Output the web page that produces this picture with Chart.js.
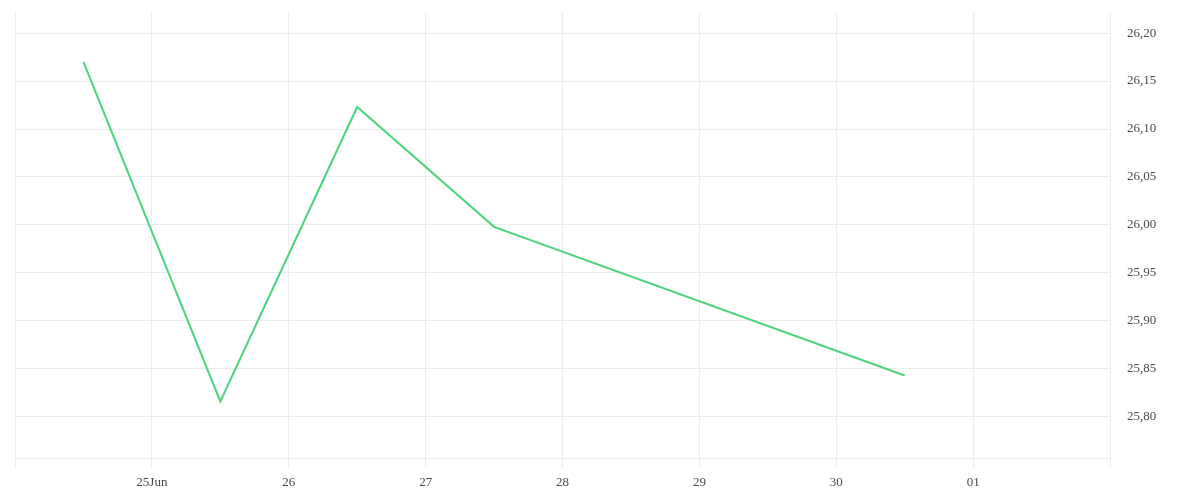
<!DOCTYPE html>
<html>
<head>
<meta charset="utf-8">
<script src="https://cdn.jsdelivr.net/npm/chart.js@4/dist/chart.umd.min.js"></script>
<style>
  html, body { margin: 0; padding: 0; background: #fff; }
  #wrap { width: 1200px; height: 500px; }
</style>
</head>
<body>
<div id="wrap"><canvas id="c" width="1200" height="500"></canvas></div>
<script>
// Days counted from 24 Jun 00:00
const dayTicks = [0, 1, 2, 3, 4, 5, 6, 7, 8];
const dayLabels = ['', '25Jun', '26', '27', '28', '29', '30', '01', ''];
const pointDays = [0.5, 1.5, 2.5, 3.5, 6.5];
const values = [26.170, 25.816, 26.123, 25.998, 25.843];
const yMin = 25.757, yMax = 26.222, yStep = 0.05;

const gridColor = '#ececec';
const font = { family: 'Liberation Serif', size: 13 };

new Chart(document.getElementById('c'), {
  type: 'line',
  data: {
    datasets: [{
      data: pointDays.map((d, i) => ({ x: d, y: values[i] })),
      borderColor: '#4cd47b',
      borderWidth: 2,
      pointRadius: 0,
      tension: 0,
      fill: false
    }]
  },
  options: {
    responsive: false,
    animation: false,
    layout: { padding: { left: 15, top: 12, right: 0, bottom: 0 } },
    plugins: { legend: { display: false }, tooltip: { enabled: false } },
    scales: {
      x: {
        type: 'linear',
        min: dayTicks[0],
        max: dayTicks[dayTicks.length - 1],
        afterBuildTicks: s => { s.ticks = dayTicks.map(v => ({ value: v })); },
        afterFit: s => { s.height = 42; s.paddingLeft = 0; s.paddingRight = 0; },
        grid: { color: gridColor, drawTicks: true, tickLength: 10 },
        border: { color: gridColor },
        ticks: {
          autoSkip: false, maxRotation: 0, padding: 7,
          color: '#4a4a4a', font,
          callback: (v) => dayLabels[dayTicks.indexOf(v)] ?? ''
        }
      },
      y: {
        position: 'right',
        min: yMin, max: yMax,
        afterFit: s => { s.width = 90; s.paddingTop = 0; s.paddingBottom = 0; },
        grid: { color: gridColor, drawTicks: false },
        border: { color: gridColor },
        ticks: {
          stepSize: yStep, includeBounds: false, padding: 17,
          color: '#4a4a4a', font,
          callback: v => v.toFixed(2).replace('.', ',')
        }
      }
    }
  }
});
</script>
</body>
</html>
